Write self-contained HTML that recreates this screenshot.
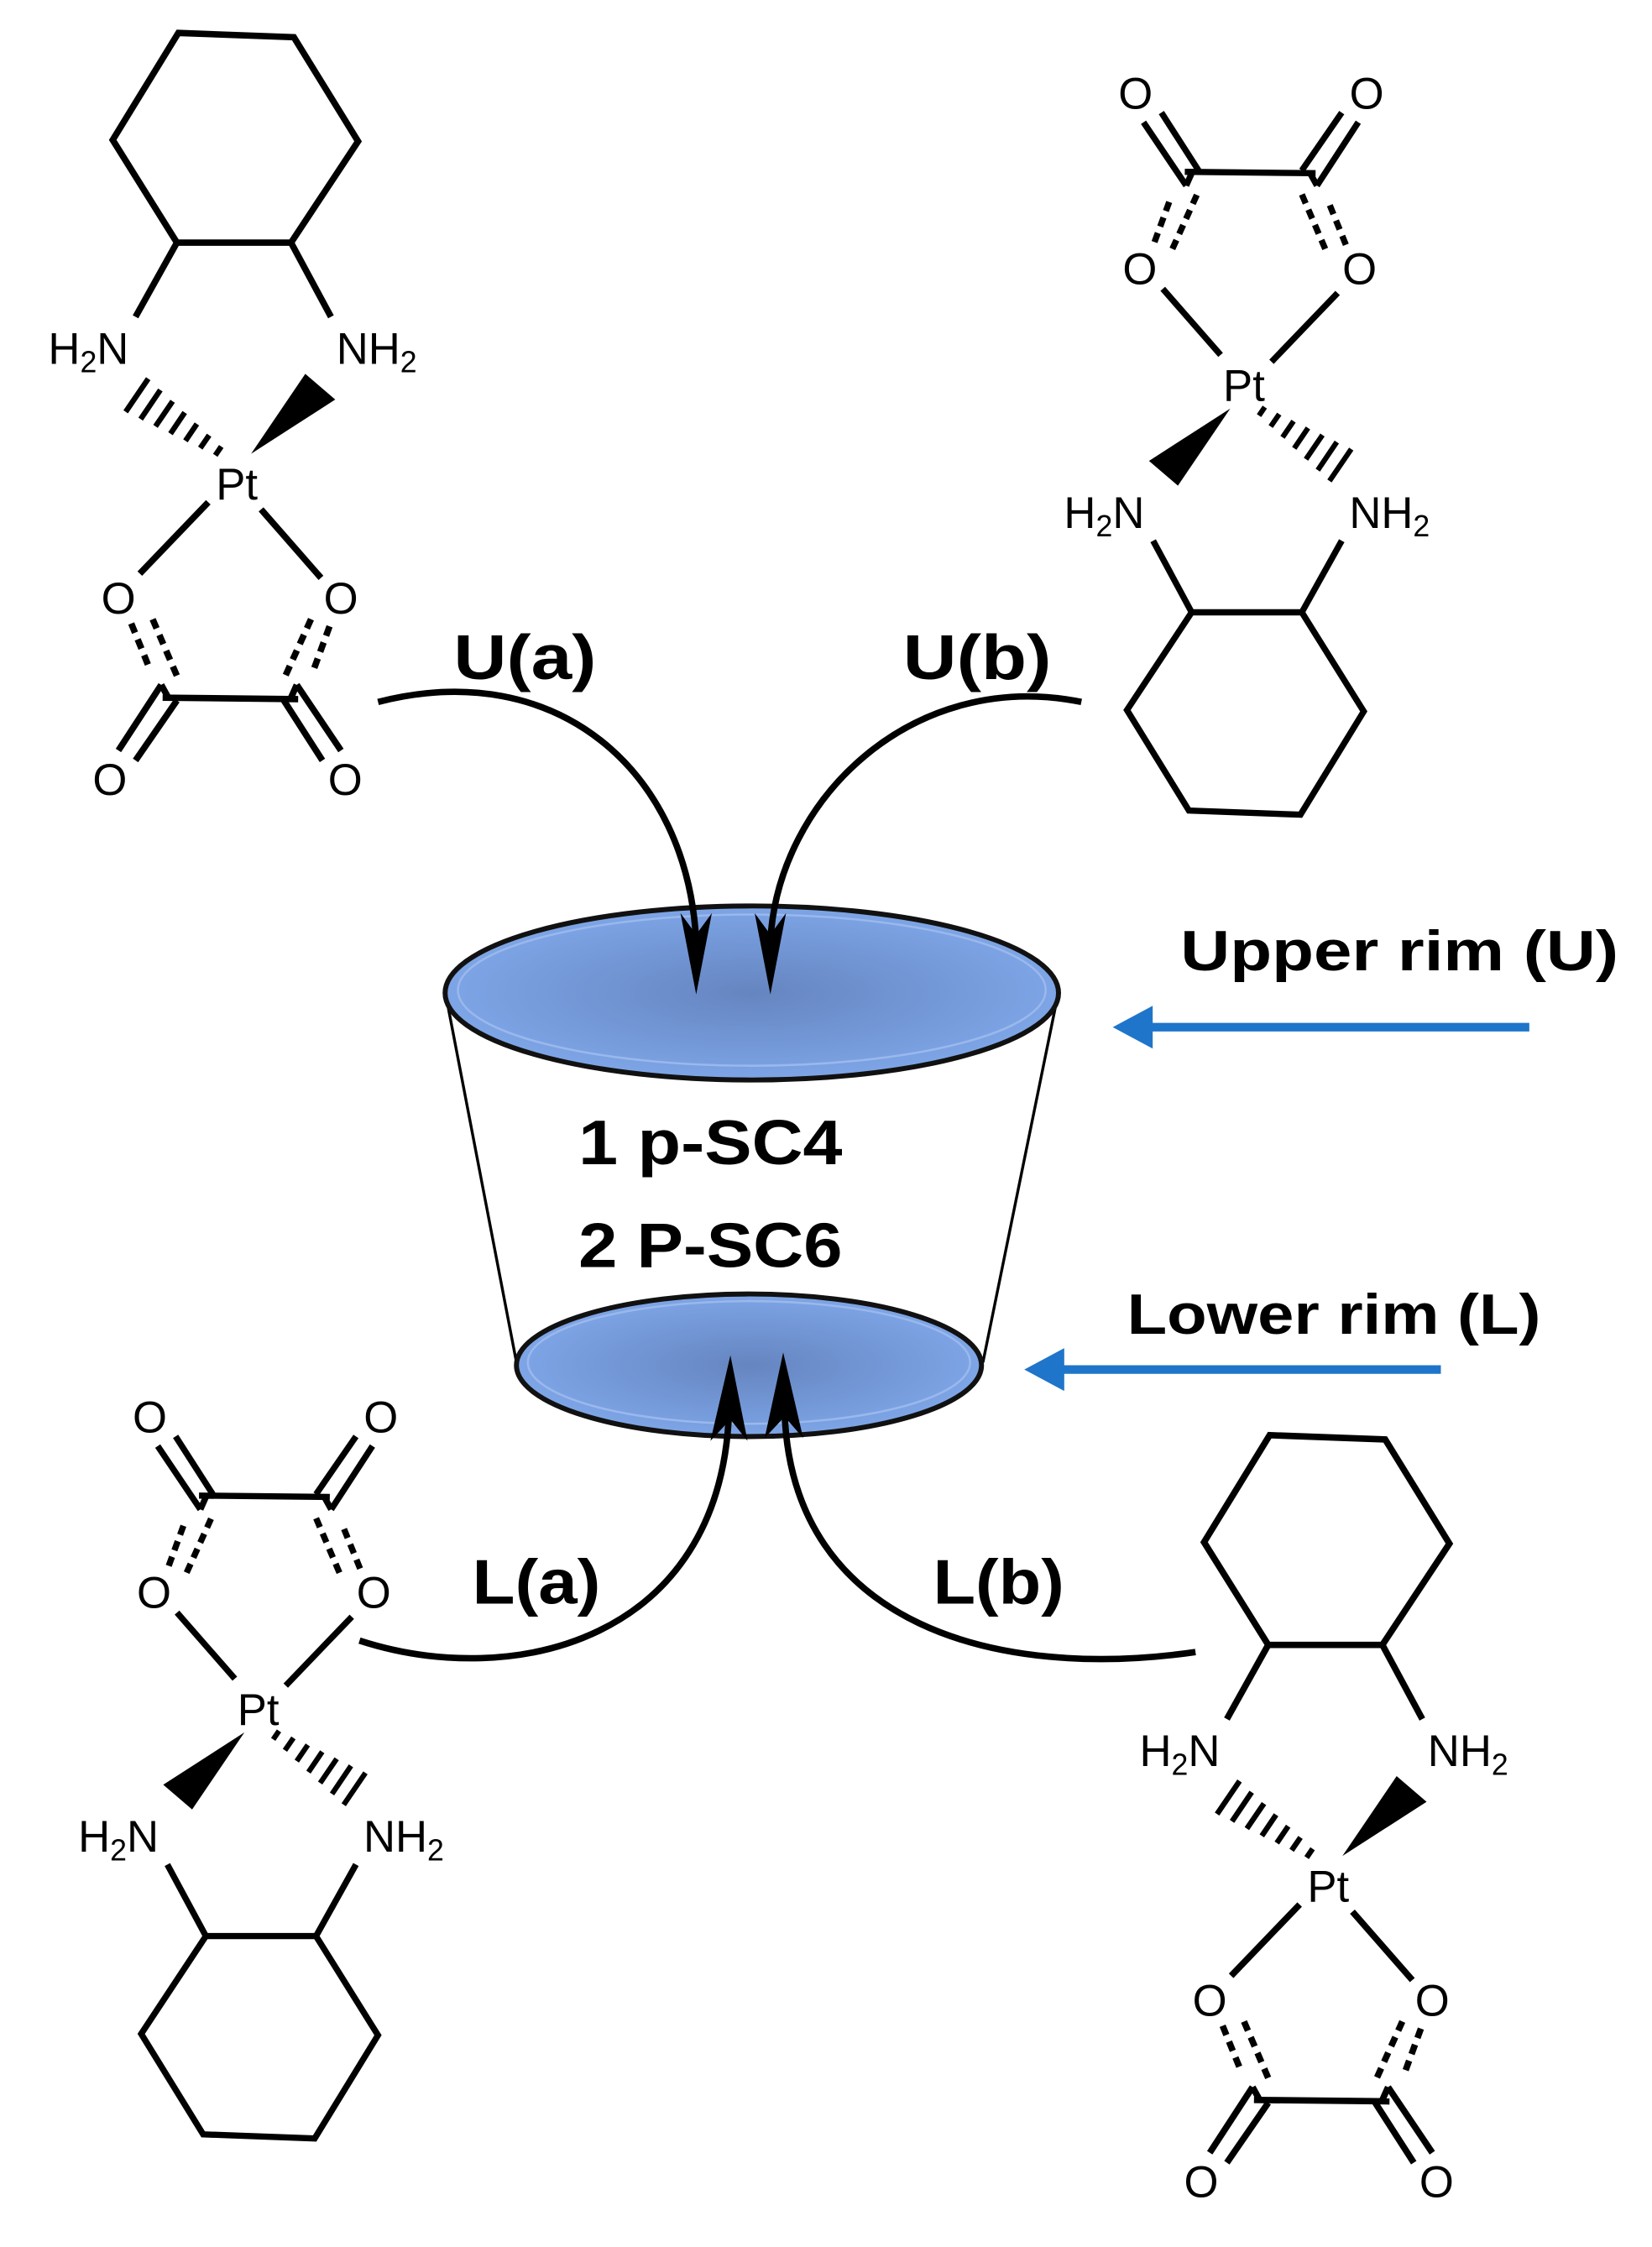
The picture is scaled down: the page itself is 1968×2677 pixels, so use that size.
<!DOCTYPE html>
<html><head><meta charset="utf-8"><style>
html,body{margin:0;padding:0;background:#fff}
svg{display:block}
.m{font-family:"Liberation Sans",sans-serif;font-size:31px;fill:#000;text-anchor:middle}
.b{font-family:"Liberation Sans",sans-serif;font-weight:bold;fill:#000;text-anchor:middle}
</style></head><body>
<svg width="1968" height="2677" viewBox="0 0 1158 1575" xmlns="http://www.w3.org/2000/svg">
<defs>
<radialGradient id="rg" cx="50%" cy="50%" r="55%">
<stop offset="0" stop-color="#6585c0"/><stop offset="1" stop-color="#80a8ea"/>
</radialGradient>
<g id="mol" stroke="#000" stroke-width="4.5" fill="none" stroke-linecap="butt">
<polygon points="-41,-314 40,-311 85,-238 38,-167 -42,-167 -87,-239" stroke-linejoin="miter"/>
<line x1="-42" y1="-167" x2="-71" y2="-115"/>
<line x1="38" y1="-167" x2="66" y2="-115"/>
<g stroke-width="3.8">
<line x1="-62.1" y1="-71.6" x2="-77.9" y2="-48.4"/>
<line x1="-53.6" y1="-63.7" x2="-67.4" y2="-43.3"/>
<line x1="-45" y1="-55.8" x2="-57" y2="-38.2"/>
<line x1="-36.5" y1="-47.9" x2="-46.5" y2="-33.1"/>
<line x1="-28" y1="-39.9" x2="-36" y2="-28.1"/>
<line x1="-19.4" y1="-32" x2="-25.6" y2="-23"/>
<line x1="-10.9" y1="-24.1" x2="-15.1" y2="-17.9"/>
</g>
<polygon points="10,-19 48,-75 69,-57" fill="#000" stroke="none"/>
<line x1="-20" y1="15" x2="-68" y2="65"/>
<line x1="17" y1="20" x2="59" y2="68"/>
<g stroke-dasharray="7,5">
<line x1="-74" y1="100" x2="-61" y2="132"/>
<line x1="-59" y1="97" x2="-41" y2="139"/>
<line x1="52" y1="97" x2="33" y2="139"/>
<line x1="65" y1="102" x2="54" y2="132"/>
</g>
<line x1="-53" y1="143" x2="-83" y2="189"/>
<line x1="-42" y1="154" x2="-71" y2="196"/>
<line x1="42" y1="143" x2="73" y2="189"/>
<line x1="33" y1="154" x2="60" y2="196"/>
<line x1="-52" y1="152" x2="43" y2="153"/>
<line x1="-53" y1="143" x2="-48" y2="152"/>
<line x1="42" y1="143" x2="38" y2="152"/>
</g>
</defs>

<g transform="translate(166,337)"><use href="#mol"/>
<text class="m" x="-104" y="-82">H<tspan font-size="21" dy="6">2</tspan><tspan dy="-6">N</tspan></text>
<text class="m" x="98" y="-82">NH<tspan font-size="21" dy="6">2</tspan></text>
<text class="m" x="0" y="13">Pt</text>
<text class="m" x="-83" y="93">O</text><text class="m" x="73" y="93">O</text>
<text class="m" x="-89" y="220">O</text><text class="m" x="76" y="220">O</text>
</g>
<g transform="translate(872,268)"><g transform="rotate(180) scale(0.965)"><use href="#mol"/></g>
<text class="m" x="-98" y="102">H<tspan font-size="21" dy="6">2</tspan><tspan dy="-6">N</tspan></text>
<text class="m" x="102" y="102">NH<tspan font-size="21" dy="6">2</tspan></text>
<text class="m" x="0" y="13">Pt</text>
<text class="m" x="-73" y="-69">O</text><text class="m" x="81" y="-69">O</text>
<text class="m" x="-76" y="-192">O</text><text class="m" x="86" y="-192">O</text>
</g>
<g transform="translate(181,1196)"><g transform="rotate(180) scale(0.965)"><use href="#mol"/></g>
<text class="m" x="-98" y="102">H<tspan font-size="21" dy="6">2</tspan><tspan dy="-6">N</tspan></text>
<text class="m" x="102" y="102">NH<tspan font-size="21" dy="6">2</tspan></text>
<text class="m" x="0" y="13">Pt</text>
<text class="m" x="-73" y="-69">O</text><text class="m" x="81" y="-69">O</text>
<text class="m" x="-76" y="-192">O</text><text class="m" x="86" y="-192">O</text>
</g>
<g transform="translate(931,1320)"><use href="#mol"/>
<text class="m" x="-104" y="-82">H<tspan font-size="21" dy="6">2</tspan><tspan dy="-6">N</tspan></text>
<text class="m" x="98" y="-82">NH<tspan font-size="21" dy="6">2</tspan></text>
<text class="m" x="0" y="13">Pt</text>
<text class="m" x="-83" y="93">O</text><text class="m" x="73" y="93">O</text>
<text class="m" x="-89" y="220">O</text><text class="m" x="76" y="220">O</text>
</g>

<line x1="313" y1="700" x2="363" y2="960" stroke="#000" stroke-width="2"/>
<line x1="741" y1="700" x2="689" y2="955" stroke="#000" stroke-width="2"/>
<ellipse cx="525" cy="957" rx="163" ry="50" fill="url(#rg)" stroke="#111" stroke-width="3.5"/>
<ellipse cx="525" cy="955" rx="155" ry="43" fill="none" stroke="#9ab8ec" stroke-width="1.5"/>
<ellipse cx="527" cy="696" rx="215" ry="61" fill="url(#rg)" stroke="#111" stroke-width="3.5"/>
<ellipse cx="527" cy="694" rx="206" ry="53" fill="none" stroke="#9ab8ec" stroke-width="1.5"/>
<text class="b" x="498" y="816" font-size="44" textLength="185" lengthAdjust="spacingAndGlyphs">1 p-SC4</text>
<text class="b" x="498" y="888" font-size="44" textLength="185" lengthAdjust="spacingAndGlyphs">2 P-SC6</text>

<g stroke="#000" stroke-width="4.5" fill="none">
<path d="M265,492 C390,460 482,540 488,660"/>
<path d="M758,492 C640,468 545,560 540,660"/>
<path d="M252,1150 C360,1185 505,1150 511,990"/>
<path d="M838,1158 C700,1178 555,1140 550,990"/>
</g>
<g fill="#000">
<polygon points="488,697 477,640 488,655 499,640"/>
<polygon points="540,697 529,640 540,655 551,640"/>
<polygon points="512,950 498,1010 512,995 524,1010"/>
<polygon points="549,948 536,1008 550,993 563,1008"/>
</g>
<text class="b" x="368" y="476" font-size="44" textLength="100" lengthAdjust="spacingAndGlyphs">U(a)</text>
<text class="b" x="685" y="476" font-size="44" textLength="104" lengthAdjust="spacingAndGlyphs">U(b)</text>
<text class="b" x="376" y="1124" font-size="44" textLength="90" lengthAdjust="spacingAndGlyphs">L(a)</text>
<text class="b" x="700" y="1124" font-size="44" textLength="92" lengthAdjust="spacingAndGlyphs">L(b)</text>

<text class="b" x="981" y="680" font-size="40" textLength="307" lengthAdjust="spacingAndGlyphs">Upper rim (U)</text>
<text class="b" x="935" y="935" font-size="40" textLength="290" lengthAdjust="spacingAndGlyphs">Lower rim (L)</text>
<line x1="1072" y1="720" x2="800" y2="720" stroke="#1f75c9" stroke-width="6"/>
<polygon points="780,720 808,705 808,735" fill="#1f75c9"/>
<line x1="1010" y1="960" x2="738" y2="960" stroke="#1f75c9" stroke-width="6"/>
<polygon points="718,960 746,945 746,975" fill="#1f75c9"/>
</svg>
</body></html>
